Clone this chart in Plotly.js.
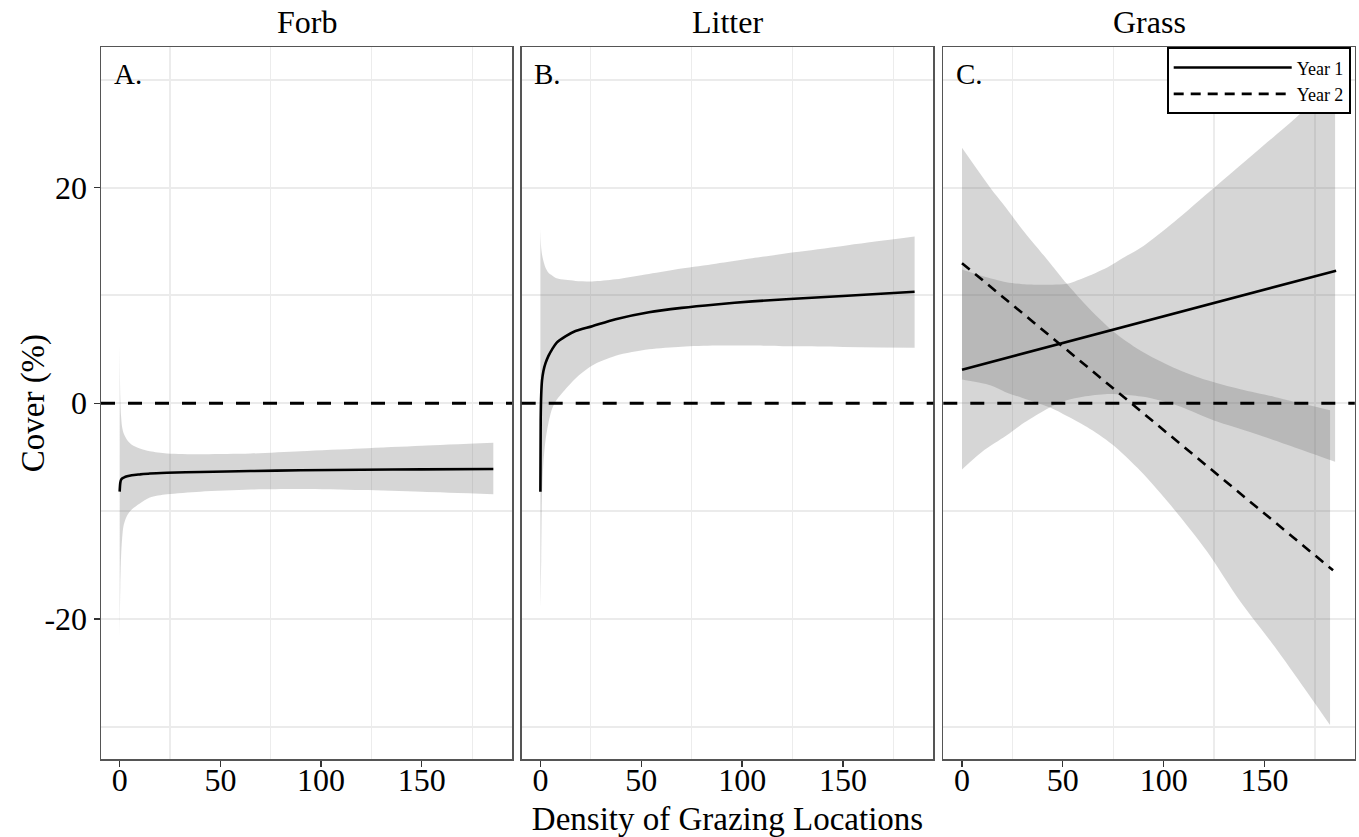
<!DOCTYPE html>
<html>
<head>
<meta charset="utf-8">
<script src="https://cdn.plot.ly/plotly-3.0.1.min.js"></script>
<style>
html,body{margin:0;padding:0;background:#fff;}
#chart{width:1359px;height:837px;}
</style>
</head>
<body>
<div id="chart"></div>
<script>
// ---------- data ----------
const facetTitles = ['Forb', 'Litter', 'Grass'];
const panelLetters = ['A.', 'B.', 'C.'];
const xTickVals = [0, 50, 100, 150];
const yTickVals = [-20, 0, 20];
const yTickText = ['-20', '0', '20'];

// Panel A: Forb
const forbX     = [0, 0.3, 0.7, 1.2, 2, 3.7, 6, 10, 15, 23.5, 40, 65, 90, 120, 150, 185.5];
const forbFit   = [-8.2, -7.4, -7.1, -6.98, -6.9, -6.78, -6.68, -6.6, -6.52, -6.45, -6.37, -6.29, -6.22, -6.17, -6.13, -6.1];
const forbUpper = [5.4, 0.5, -1.2, -2.2, -2.8, -3.4, -3.85, -4.2, -4.45, -4.65, -4.72, -4.66, -4.45, -4.2, -3.95, -3.67];
const forbLower = [-21.7, -17.0, -14.2, -12.6, -11.3, -10.4, -9.85, -9.3, -8.75, -8.45, -8.2, -8.0, -7.95, -8.05, -8.2, -8.43];

// Panel B: Litter
const litX     = [0, 0.15, 0.4, 0.8, 1.5, 2.5, 4, 5.8, 8, 12.4, 17.4, 25.7, 37.3, 53.8, 70, 87, 105, 125.8, 150, 185.5];
const litFit   = [-8.2, -1.5, 0.8, 2.1, 3.0, 3.7, 4.4, 5.0, 5.6, 6.2, 6.7, 7.15, 7.8, 8.45, 8.85, 9.17, 9.45, 9.69, 9.95, 10.34];
const litUpper = [16.2, 15.2, 14.4, 13.8, 13.2, 12.6, 12.1, 11.85, 11.6, 11.45, 11.35, 11.3, 11.5, 12.0, 12.5, 12.95, 13.45, 14.0, 14.6, 15.46];
const litLower = [-19.0, -17.5, -14.5, -8.5, -5.5, -3.5, -1.8, -0.5, 0.3, 1.3, 2.3, 3.5, 4.4, 5.0, 5.25, 5.35, 5.35, 5.28, 5.22, 5.15];

// Panel C: Grass, Year 1
const g1LineX = [0, 185.5];
const g1LineY = [3.12, 12.3];
const g1X     = [0, 10, 22, 30, 38.7, 45, 52, 60, 72, 80, 90, 105, 125, 145, 165, 185];
const g1Upper = [12.4, 11.8, 11.23, 11.05, 11.0, 11.0, 11.08, 11.6, 12.6, 13.5, 14.6, 16.8, 20.0, 23.2, 26.4, 29.9];
const g1Lower = [-6.14, -4.5, -3.0, -1.9, -0.9, -0.25, 0.28, 0.6, 0.85, 0.8, 0.6, -0.1, -1.6, -2.8, -4.1, -5.43];

// Panel C: Grass, Year 2
const g2LineX = [0, 184];
const g2LineY = [13.0, -15.5];
const g2X     = [0, 14, 22, 30, 43.7, 52, 62, 74.4, 88.4, 105, 121.6, 138, 155, 170, 182.5];
const g2Upper = [23.7, 20.0, 18.1, 16.1, 13.0, 11.08, 9.0, 6.76, 4.9, 3.3, 2.13, 1.3, 0.59, -0.1, -0.65];
const g2Lower = [2.2, 1.67, 1.0, 0.5, -0.4, -1.18, -2.2, -3.8, -6.26, -9.8, -13.77, -18.4, -22.57, -26.5, -29.85];

const seriesNames = ['Year 1', 'Year 2'];

// ---------- styles ----------
const FONT = 'Liberation Serif, Times New Roman, serif';
const RIBBON = 'rgba(102,102,102,0.27)';

function ribbon(xs, lo, hi, xa, ya) {
  const base = {
    x: xs, xaxis: xa, yaxis: ya, type: 'scatter', mode: 'lines',
    hoverinfo: 'skip', showlegend: false
  };
  return [
    Object.assign({}, base, {y: lo, line: {width: 0, color: 'rgba(0,0,0,0)', shape: 'spline', smoothing: 0.8}}),
    Object.assign({}, base, {y: hi, fill: 'tonexty', fillcolor: RIBBON,
      line: {width: 0, color: 'rgba(0,0,0,0)', shape: 'spline', smoothing: 0.8}})
  ];
}
function fitLine(xs, ys, xa, ya, extra) {
  return Object.assign({
    x: xs, y: ys, xaxis: xa, yaxis: ya,
    type: 'scatter', mode: 'lines',
    line: {color: 'black', width: 2.6, shape: 'spline', smoothing: 0.8},
    showlegend: false, hoverinfo: 'skip'
  }, extra || {});
}

const traces = [].concat(
  ribbon(forbX, forbLower, forbUpper, 'x', 'y'),
  [fitLine(forbX, forbFit, 'x', 'y')],
  ribbon(litX, litLower, litUpper, 'x2', 'y2'),
  [fitLine(litX, litFit, 'x2', 'y2')],
  ribbon(g1X, g1Lower, g1Upper, 'x3', 'y3'),
  ribbon(g2X, g2Lower, g2Upper, 'x3', 'y3'),
  [
    fitLine(g1LineX, g1LineY, 'x3', 'y3', {name: seriesNames[0], showlegend: true,
      line: {color: 'black', width: 2.6}}),
    fitLine(g2LineX, g2LineY, 'x3', 'y3', {name: seriesNames[1], showlegend: true,
      line: {color: 'black', width: 2.6, dash: '10px,7px'}})
  ]
);

const W = 1359, H = 837;
const xDomains = [[101 / W, 512 / W], [521.7 / W, 933.3 / W], [943.3 / W, 1354.8 / W]];
const yDomain = [1 - 759 / H, 1 - 47 / H];

function xAxis(i, withTitle) {
  const ax = {
    domain: xDomains[i], range: [-9.27, 194.77], anchor: i === 0 ? 'y' : 'y' + (i + 1),
    tickmode: 'array', tickvals: xTickVals, ticktext: xTickVals.map(String),
    ticks: 'outside', ticklen: 6, tickwidth: 1.3, tickcolor: '#333',
    ticklabelstandoff: -14,
    tickfont: {family: FONT, size: 32, color: 'black'},
    showgrid: false, zeroline: false,
    minor: {tickmode: 'array', tickvals: [25, 75, 125, 175], showgrid: true, gridcolor: '#ececec', gridwidth: 1.3, ticks: ''},
    showline: true, mirror: true, linecolor: '#555', linewidth: 1.5,
    fixedrange: true
  };
  if (withTitle) {
    ax.title = {text: 'Density of Grazing Locations', font: {family: FONT, size: 33, color: 'black'}, standoff: 16};
  }
  return ax;
}
function yAxis(i) {
  return {
    domain: yDomain, range: [-33, 33.05], anchor: i === 0 ? 'x' : 'x' + (i + 1),
    tickmode: 'array', tickvals: yTickVals, ticktext: yTickText,
    ticks: i === 0 ? 'outside' : '', ticklen: 6, tickwidth: 1.3, tickcolor: '#333',
    showticklabels: i === 0,
    tickfont: {family: FONT, size: 32, color: 'black'},
    showgrid: true, gridcolor: '#ebebeb', gridwidth: 2, zeroline: false,
    minor: {tickmode: 'array', tickvals: [-30, -10, 10, 30], showgrid: true, gridcolor: '#ebebeb', gridwidth: 2, ticks: ''},
    showline: true, mirror: true, linecolor: '#555', linewidth: 1.5,
    fixedrange: true
  };
}

const annotations = [];
const shapes = [];
for (let i = 0; i < 3; i++) {
  const xs = i === 0 ? 'x' : 'x' + (i + 1);
  const ys = i === 0 ? 'y' : 'y' + (i + 1);
  annotations.push({
    text: facetTitles[i], xref: xs + ' domain', x: 0.5, yref: 'paper', y: 1 - 22 / H,
    xanchor: 'center', yanchor: 'middle', showarrow: false,
    font: {family: FONT, size: 32, color: 'black'}
  });
  annotations.push({
    text: panelLetters[i], xref: xs + ' domain', x: 0.026, yref: 'paper', y: 1 - 56 / H,
    xanchor: 'left', yanchor: 'top', showarrow: false,
    font: {family: FONT, size: 29, color: 'black'}
  });
  shapes.push({
    type: 'line', xref: xs + ' domain', x0: 0, x1: 1, yref: ys, y0: 0, y1: 0,
    line: {color: 'black', width: 3, dash: '14px,13px'}, layer: 'above'
  });
}
// y-axis title
annotations.push({
  text: 'Cover (%)', xref: 'paper', x: 33 / W, yref: 'y', y: 0,
  xanchor: 'center', yanchor: 'middle', textangle: -90, showarrow: false,
  font: {family: FONT, size: 33, color: 'black'}
});

const layout = {
  width: W, height: H,
  margin: {l: 0, r: 0, t: 0, b: 0},
  paper_bgcolor: 'white', plot_bgcolor: 'white',
  font: {family: FONT, color: 'black'},
  showlegend: true,
  legend: {
    x: 1350.7 / W, xanchor: 'right', y: 1 - 47.3 / H, yanchor: 'top',
    bgcolor: 'white', bordercolor: 'black', borderwidth: 2,
    font: {family: FONT, size: 18, color: 'black'},
    itemwidth: 118, tracegroupgap: 0, traceorder: 'normal'
  },
  xaxis: xAxis(0, false), xaxis2: xAxis(1, true), xaxis3: xAxis(2, false),
  yaxis: yAxis(0), yaxis2: yAxis(1), yaxis3: yAxis(2),
  annotations: annotations,
  shapes: shapes
};

Plotly.newPlot('chart', traces, layout, {displayModeBar: false, staticPlot: true});
</script>
</body>
</html>
